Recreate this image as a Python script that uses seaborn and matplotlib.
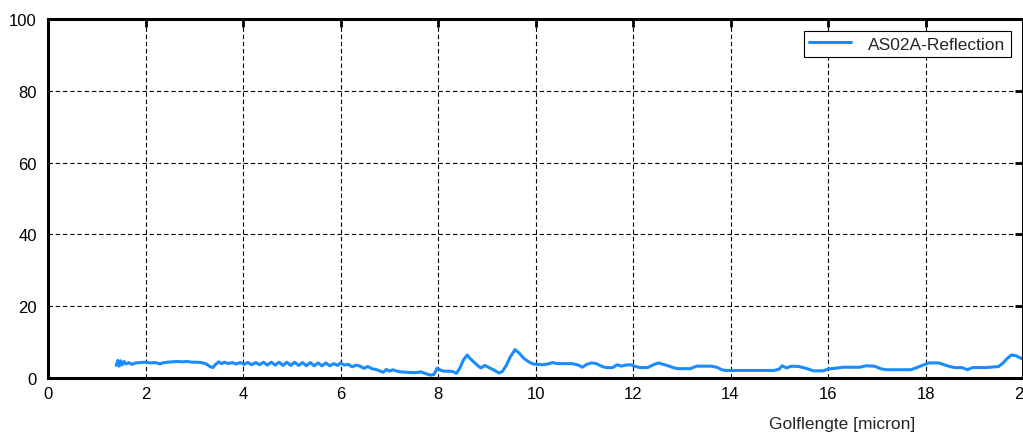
import matplotlib
matplotlib.use('Agg')
import matplotlib.pyplot as plt
import seaborn as sns
import pandas as pd

# Golflengte (micron) en reflectie (%)
golflengte = [
    1.40, 1.43, 1.46, 1.49, 1.52, 1.56, 1.60, 1.66, 1.72, 1.80, 1.90, 2.00,
    2.10, 2.20, 2.30, 2.35, 2.45, 2.55, 2.65, 2.75, 2.85, 2.95, 3.05, 3.15,
    3.25, 3.32, 3.38, 3.44, 3.50, 3.56, 3.62, 3.70, 3.78, 3.86, 3.94, 4.02,
    4.10, 4.18, 4.26, 4.34, 4.42, 4.50, 4.58, 4.66, 4.74, 4.82, 4.90, 4.98,
    5.06, 5.14, 5.22, 5.30, 5.38, 5.46, 5.54, 5.62, 5.70, 5.78, 5.86, 5.94,
    6.00, 6.08, 6.16, 6.24, 6.32, 6.40, 6.48, 6.56, 6.64, 6.72, 6.80, 6.88,
    6.94, 7.00, 7.08, 7.16, 7.24, 7.35, 7.45, 7.55, 7.65, 7.75, 7.85, 7.92,
    7.98, 8.05, 8.12, 8.22, 8.30, 8.38, 8.45, 8.52, 8.60, 8.66, 8.74, 8.82,
    8.88, 8.96, 9.05, 9.15, 9.25, 9.32, 9.40, 9.48, 9.58, 9.66, 9.76, 9.86,
    9.95, 10.05, 10.15, 10.25, 10.35, 10.45, 10.60, 10.75, 10.88, 10.96, 11.05, 11.15,
    11.25, 11.35, 11.45, 11.58, 11.68, 11.76, 11.85, 11.95, 12.05, 12.15, 12.30, 12.42,
    12.52, 12.62, 12.72, 12.82, 12.92, 13.05, 13.18, 13.30, 13.45, 13.60, 13.72, 13.82,
    13.90, 14.20, 14.50, 14.90, 15.00, 15.06, 15.15, 15.25, 15.40, 15.55, 15.70, 15.90,
    16.00, 16.20, 16.30, 16.65, 16.78, 16.95, 17.10, 17.20, 17.70, 17.84, 17.95, 18.07,
    18.27, 18.38, 18.50, 18.60, 18.75, 18.86, 18.96, 19.24, 19.50, 19.60, 19.68, 19.76,
    19.86, 19.94, 20.00,
]
reflectie = [
    3.5, 4.9, 3.3, 4.8, 3.6, 4.6, 3.9, 4.3, 3.8, 4.2, 4.3, 4.4,
    4.2, 4.3, 3.9, 4.2, 4.4, 4.5, 4.6, 4.5, 4.6, 4.4, 4.4, 4.3,
    3.9, 3.2, 2.9, 3.8, 4.5, 4.0, 4.4, 4.0, 4.3, 3.9, 4.3, 3.8,
    4.3, 3.7, 4.3, 3.7, 4.4, 3.6, 4.4, 3.6, 4.4, 3.5, 4.4, 3.5,
    4.4, 3.5, 4.3, 3.4, 4.3, 3.4, 4.2, 3.4, 4.2, 3.4, 4.0, 3.5,
    4.2, 3.6, 3.8, 3.1, 3.6, 3.3, 2.7, 3.2, 2.6, 2.4, 2.0, 1.6,
    2.4, 1.9, 2.3, 1.9, 1.7, 1.6, 1.5, 1.5, 1.7, 1.2, 0.8, 1.0,
    2.7, 2.2, 1.9, 1.9, 1.8, 1.3, 2.8, 5.0, 6.4, 5.4, 4.4, 3.4,
    2.8, 3.5, 2.9, 2.2, 1.4, 1.8, 3.5, 5.8, 7.9, 7.0, 5.5, 4.5,
    3.9, 3.8, 3.7, 3.9, 4.3, 4.0, 4.0, 4.0, 3.6, 3.0, 3.8, 4.2,
    4.0, 3.3, 2.9, 2.9, 3.7, 3.3, 3.6, 3.7, 3.2, 2.9, 2.9, 3.7,
    4.2, 3.8, 3.4, 2.9, 2.6, 2.6, 2.6, 3.3, 3.3, 3.3, 3.0, 2.3,
    2.1, 2.1, 2.1, 2.1, 2.5, 3.4, 2.8, 3.3, 3.2, 2.7, 2.0, 2.0,
    2.5, 2.8, 3.0, 3.0, 3.4, 3.3, 2.5, 2.3, 2.3, 3.0, 3.6, 4.2,
    4.2, 3.7, 3.2, 2.9, 2.9, 2.3, 2.9, 2.9, 3.2, 4.3, 5.5, 6.4,
    6.2, 5.6, 5.3,
]
x_ticks = [0, 2, 4, 6, 8, 10, 12, 14, 16, 18, 20]
y_ticks = [0, 20, 40, 60, 80, 100]

df = pd.DataFrame({'golflengte': golflengte, 'reflectie': reflectie})

sns.set_style('white')
plt.rcParams['font.family'] = ['Liberation Sans', 'DejaVu Sans']

fig = plt.figure(figsize=(10.23, 4.39), dpi=100)
ax = fig.add_axes([48 / 1023, 60 / 439, 975 / 1023, 359 / 439])

sns.lineplot(data=df, x='golflengte', y='reflectie', ax=ax, color='#1a8cff',
             linewidth=2.2, estimator=None, sort=False, label='AS02A-Reflection')

ax.set_xlim(0, 20)
ax.set_ylim(0, 100)
ax.set_xticks(x_ticks)
ax.set_yticks(y_ticks)
ax.grid(True, color='black', linestyle=(0, (4, 2.5)), linewidth=0.8)
ax.tick_params(direction='in', top=True, right=True, length=6, width=2,
               labelsize=12, colors='black')
ax.tick_params(axis='x', pad=6)
ax.tick_params(axis='y', pad=8)
for sp in ax.spines.values():
    sp.set_linewidth(2.2)
    sp.set_color('black')

ax.set_ylabel('')
ax.set_xlabel('Golflengte [micron]', fontsize=12.5, va='center',
              family=['Liberation Sans Narrow', 'Liberation Sans', 'DejaVu Sans'])
ax.xaxis.set_label_coords(0.814, -0.128)

leg = ax.legend(loc='upper right', fontsize=12.5, frameon=True, fancybox=False,
                framealpha=1, edgecolor='black', handlelength=2.4,
                handletextpad=1.0, borderaxespad=0.7, borderpad=0.3)
leg.get_frame().set_linewidth(0.8)

fig.savefig('out.png', dpi=100)
plt.close(fig)
